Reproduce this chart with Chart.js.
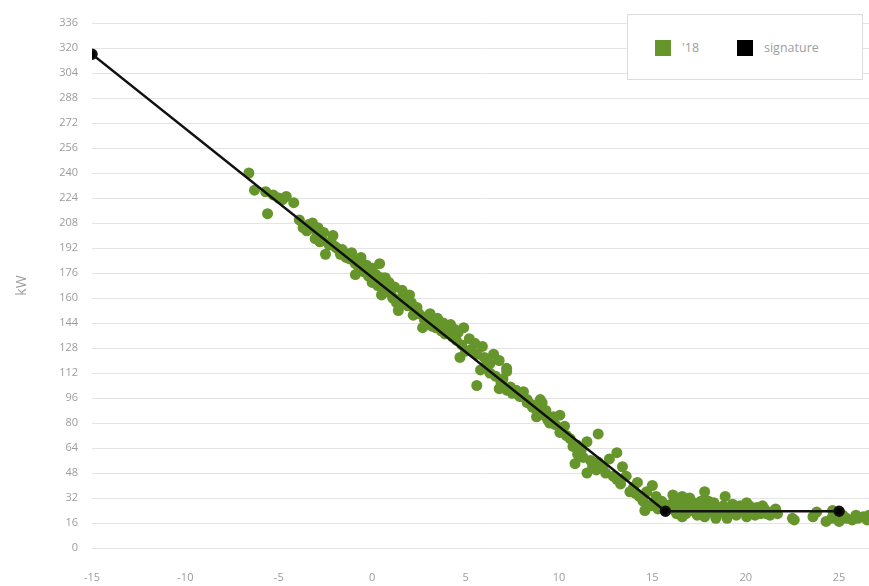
<!DOCTYPE html>
<html lang="en">
<head>
    <meta charset="UTF-8">
    <title>kW signature '18</title>
    <script src="https://cdn.jsdelivr.net/npm/chart.js"></script>
    <style>
        body { margin: 0; background: #fff; font-family: "Open Sans", sans-serif; }
        #wrap { position: relative; width: 869px; height: 586px; }
        #legend {
            position: absolute; left: 627px; top: 14px; width: 234px; height: 64px;
            background: #fff; border: 1px solid #dcdcdc;
        }
        #legend .item { position: absolute; top: 25px; font-size: 12.5px; color: #a0a0a0; line-height: 16px; }
        #legend .box { display: inline-block; width: 16px; height: 16px; vertical-align: top; margin-right: 11px; }
    </style>
</head>
<body>
    <div id="wrap">
        <canvas id="chart" width="869" height="586"></canvas>
        <div id="legend"></div>
    </div>

    <script>
        // outdoor temperature (x) and load in kW (y)
        const tempX = [
            -6.6, -6.3, -5.3, -5.0, -4.8, -4.2, -5.6, -3.7, -3.4, -3.2, -2.9, -2.6, -2.1, -3.05, -2.8,
            -2.5, -2.3, -1.9, -1.6, -1.3, -1.1, -0.8, -0.6, -0.3, 0.0, 0.4, -0.9, -0.5, 0.0, 0.2,
            0.5, 0.7, 0.9, 1.2, 0.5, 1.0, 1.4, 1.6, 1.8,
            -5.7, -4.6, -3.9, -3.5, -3.0, -2.7, -2.2, -2.0, -1.7, -1.4, -1.2, -0.9, -0.7, -0.4, -0.2,
            0.1, 0.3, 0.6, 0.8, 1.1, 1.3, 1.5, 1.7,
            2.0, 1.4, 1.9, 2.2, 2.4, 2.7, 2.9, 3.1, 3.3, 3.5, 3.8, 4.2, 4.4, 4.6, 4.9, 5.0,
            5.2, 5.5, 5.9, 4.7, 5.8, 6.0, 6.3, 6.5, 6.8, 7.2, 5.6, 6.8, 7.0, 7.2, 7.2,
            7.5, 7.9, 8.1, 8.3, 8.5, 8.8, 9.0, 9.1, 9.3,
            2.1, 2.3, 2.5, 2.8, 3.0, 3.2, 3.4, 3.7, 3.9, 4.1, 4.3, 4.5, 4.8, 5.3, 5.6,
            6.1, 6.3, 6.6, 6.9, 7.4, 7.7, 8.0, 8.3, 8.6, 8.9, 9.2,
            9.5, 9.7, 10.05, 10.05, 10.3, 10.75, 10.96, 11.2, 11.5, 12.1, 10.86, 11.5, 11.8, 12.1, 12.35,
            12.7, 13.1, 13.4, 13.1, 13.6, 14.0, 14.2, 15.0, 14.3, 14.7, 15.2, 14.6, 15.0, 15.5,
            9.4, 9.8, 10.1, 10.4, 10.6, 11.0, 11.3, 11.7, 12.0, 12.5, 12.9, 13.3, 13.8, 14.1, 14.5,
            14.9, 15.3,
            15.8, 16.1, 16.3, 16.6, 16.5, 16.8, 17.2, 17.0, 17.5, 17.8, 18.0, 18.2, 18.5, 18.9, 19.0,
            19.3, 19.7, 20.05, 20.3, 20.6, 20.9, 21.1, 21.4, 16.6, 17.4, 18.4, 19.5, 20.05, 21.6, 22.5,
            22.6, 23.6, 23.8, 24.65, 24.3, 24.6, 25.0, 25.4, 25.7, 26.0, 26.3, 26.6,
            16.0, 16.2, 16.4, 16.7, 16.9, 17.1, 17.3, 17.6, 17.9, 18.1, 18.3, 18.6, 18.8, 19.1, 19.4,
            19.6, 19.9, 20.2, 20.4, 20.8, 21.0, 21.3, 21.7, 16.3, 17.8, 19.0, 20.5, 25.2, 25.9, 26.5
        ];
        const kw = [
            240, 229, 226, 224, 223, 221, 214, 205, 207, 208, 205, 202, 200, 198, 196,
            188, 194, 192, 191, 188, 189, 184, 186, 181, 179, 182, 175, 177, 170, 175,
            173, 173, 170, 167, 162, 163, 159, 165, 162,
            228, 225, 210, 203, 203, 199, 196, 193, 188, 186, 185, 182, 180, 177, 174,
            172, 168, 167, 164, 160, 157, 156, 158,
            162, 152, 155, 149, 154, 141, 148, 150, 145, 147, 144, 143, 140, 138, 141, 126,
            134, 131, 129, 122, 114, 122, 118, 124, 120, 115, 104, 102, 108, 113, 101,
            99, 97, 100, 95, 92, 84, 95, 93, 88,
            157, 152, 150, 146, 145, 142, 141, 139, 137, 138, 135, 133, 130, 127, 124,
            117, 112, 110, 106, 103, 101, 97, 93, 90, 87, 85,
            80, 84, 85, 74, 78, 65, 66, 63, 68, 73, 54, 48, 52, 55, 52,
            57, 61, 52, 44, 46, 39, 42, 40, 33, 36, 33, 24, 28, 30,
            82, 79, 76, 72, 70, 60, 58, 56, 50, 48, 46, 41, 36, 35, 30,
            27, 25,
            26, 34, 29, 33, 26, 22, 29, 32, 25, 36, 30, 26, 22, 33, 24,
            28, 27, 29, 23, 26, 27, 22, 23, 20, 21, 19, 21, 20, 25, 19,
            18, 20, 23, 24, 17, 19, 17, 19, 18, 19, 20, 21,
            28, 24, 31, 28, 25, 24, 27, 30, 27, 23, 29, 25, 27, 22, 25,
            23, 25, 27, 24, 22, 25, 21, 22, 22, 20, 19, 21, 21, 21, 18
        ];

        // fitted energy signature (breakpoints)
        const sigX = [-15, 15.7, 25];
        const sigKw = [316, 23.5, 23.5];

        const yTicks = [0, 16, 32, 48, 64, 80, 96, 112, 128, 144, 160, 176, 192, 208, 224, 240, 256, 272, 288, 304, 320, 336];
        const xTicks = [-15, -10, -5, 0, 5, 10, 15, 20, 25];

        const green = '#65952b';
        const tickFont = { family: "'Open Sans', sans-serif", size: 11 };

        const chart = new Chart(document.getElementById('chart'), {
            type: 'scatter',
            data: {
                datasets: [
                    {
                        label: 'signature',
                        data: sigX.map((x, i) => ({ x: x, y: sigKw[i] })),
                        showLine: true,
                        borderColor: '#111',
                        backgroundColor: '#000',
                        borderWidth: 2.5,
                        pointRadius: 4.5,
                        order: 0
                    },
                    {
                        label: "'18",
                        data: tempX.map((x, i) => ({ x: x, y: kw[i] })),
                        backgroundColor: green,
                        borderWidth: 0,
                        pointRadius: 5.5,
                        order: 1
                    }
                ]
            },
            options: {
                responsive: false,
                animation: false,
                layout: { autoPadding: false, padding: { top: 23, right: 0, left: 0, bottom: 0 } },
                plugins: {
                    legend: { display: false },
                    tooltip: { enabled: false }
                },
                scales: {
                    x: {
                        type: 'linear',
                        min: -15,
                        max: 26.6,
                        grid: { display: false },
                        border: { display: false },
                        afterBuildTicks: scale => { scale.ticks = xTicks.map(v => ({ value: v })); },
                        afterFit: scale => {
                            scale.height = 38;
                            scale.paddingLeft = 0;
                            scale.paddingRight = 0;
                        },
                        ticks: { color: '#9c9c9c', font: tickFont, padding: 15, maxRotation: 0 }
                    },
                    y: {
                        min: 0,
                        max: 336,
                        grid: { color: '#e4e4e4', drawTicks: false },
                        border: { display: false },
                        afterBuildTicks: scale => { scale.ticks = yTicks.map(v => ({ value: v })); },
                        afterFit: scale => { scale.width = 92; },
                        ticks: { color: '#9c9c9c', font: tickFont, padding: 14 },
                        title: {
                            display: true,
                            text: 'kW',
                            color: '#9c9c9c',
                            font: { family: "'Open Sans', sans-serif", size: 14 },
                            padding: { top: 14, bottom: 0 }
                        }
                    }
                }
            }
        });

        // legend drawn as html, colours taken from the datasets
        const legend = document.getElementById('legend');
        const lefts = [27, 109];
        [1, 0].forEach((di, k) => {
            const ds = chart.data.datasets[di];
            const item = document.createElement('div');
            item.className = 'item';
            item.style.left = lefts[k] + 'px';
            item.innerHTML = `<span class="box" style="background:${ds.backgroundColor}"></span>${ds.label}`;
            legend.appendChild(item);
        });
    </script>
</body>
</html>
